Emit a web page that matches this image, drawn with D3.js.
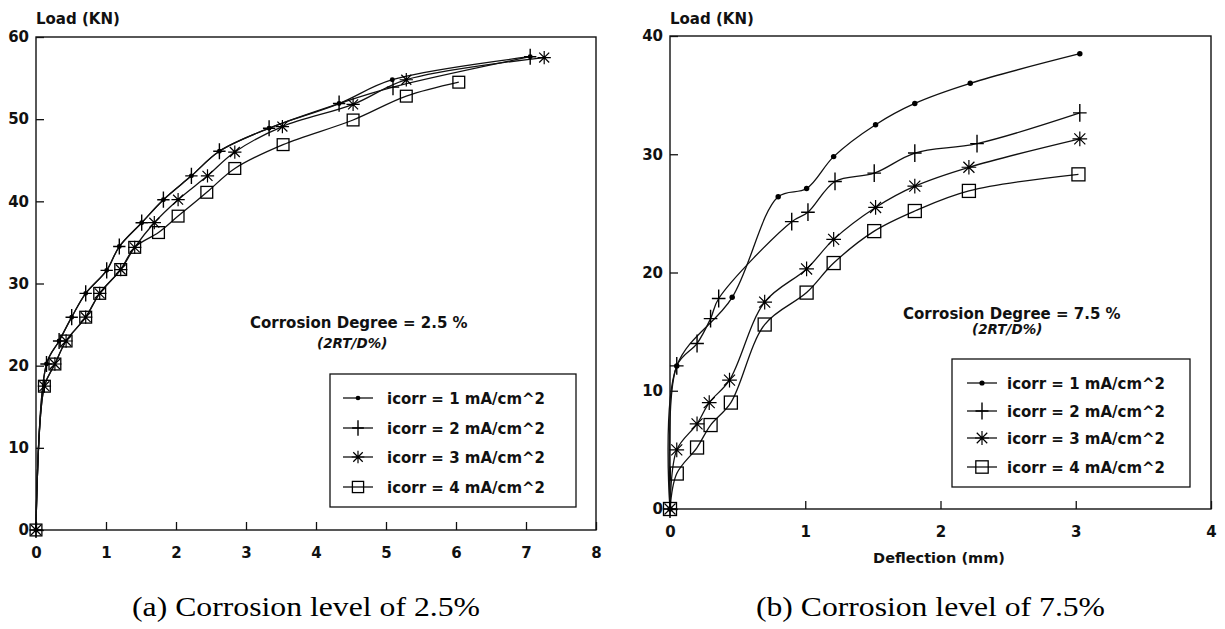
<!DOCTYPE html>
<html>
<head>
<meta charset="utf-8">
<script src="https://cdn.jsdelivr.net/npm/d3@7"></script>
<style>
  html, body { margin: 0; padding: 0; background: #fff; }
  svg { display: block; }
  .lab { font-family: "DejaVu Sans", sans-serif; font-weight: bold; fill: #111; }
  .cap { font-family: "Liberation Serif", Tinos, "Times New Roman", Times, serif; fill: #000; }
</style>
</head>
<body>
<svg id="chart" width="1225" height="629"></svg>
<script>
// ---------- Data: panel (a) corrosion 2.5 % ----------
const a1x = [0, 0.15, 0.33, 0.51, 0.71, 1.01, 1.19, 1.51, 1.82, 2.22, 2.62, 3.33, 4.33, 5.09, 7.06];
const a1y = [0, 20.2, 23.0, 25.9, 28.8, 31.6, 34.5, 37.4, 40.2, 43.1, 46.1, 48.9, 51.9, 54.8, 57.6];
const a2x = [0, 0.15, 0.33, 0.51, 0.71, 1.01, 1.19, 1.51, 1.82, 2.22, 2.62, 3.33, 4.33, 5.10, 7.06];
const a2y = [0, 20.2, 23.0, 25.9, 28.8, 31.6, 34.5, 37.4, 40.2, 43.1, 46.1, 48.9, 51.9, 53.9, 57.6];
const a3x = [0, 0.12, 0.27, 0.43, 0.71, 0.91, 1.21, 1.41, 1.69, 2.03, 2.45, 2.84, 3.52, 4.53, 5.29, 7.26];
const a3y = [0, 17.5, 20.2, 23.0, 25.9, 28.8, 31.7, 34.4, 37.4, 40.2, 43.1, 46.0, 49.1, 51.8, 54.8, 57.5];
const a4x = [0, 0.12, 0.27, 0.43, 0.71, 0.91, 1.21, 1.41, 1.75, 2.03, 2.44, 2.84, 3.53, 4.53, 5.29, 6.04];
const a4y = [0, 17.5, 20.2, 23.0, 25.9, 28.8, 31.7, 34.4, 36.2, 38.2, 41.1, 44.0, 46.9, 49.9, 52.8, 54.5];

// ---------- Data: panel (b) corrosion 7.5 % ----------
const b1x = [0, 0.05, 0.46, 0.80, 1.01, 1.21, 1.52, 1.81, 2.22, 3.03];
const b1y = [0, 12.1, 17.9, 26.4, 27.1, 29.8, 32.5, 34.3, 36.0, 38.5];
const b2x = [0, 0.05, 0.20, 0.30, 0.36, 0.90, 1.02, 1.22, 1.51, 1.81, 2.27, 3.03];
const b2y = [0, 12.1, 14.0, 16.1, 17.8, 24.3, 25.1, 27.7, 28.4, 30.1, 30.9, 33.5];
const b3x = [0, 0.05, 0.20, 0.29, 0.44, 0.70, 1.01, 1.21, 1.52, 1.81, 2.21, 3.03];
const b3y = [0, 5.0, 7.2, 9.0, 10.9, 17.5, 20.3, 22.8, 25.5, 27.3, 28.9, 31.3];
const b4x = [0, 0.05, 0.20, 0.30, 0.45, 0.70, 1.01, 1.21, 1.51, 1.81, 2.21, 3.02];
const b4y = [0, 3.0, 5.2, 7.1, 9.0, 15.6, 18.3, 20.8, 23.5, 25.2, 26.9, 28.3];

// ---------- Ticks and labels ----------
const aXTicks = [0, 1, 2, 3, 4, 5, 6, 7, 8];
const aYTicks = [0, 10, 20, 30, 40, 50, 60];
const bXTicks = [0, 1, 2, 3, 4];
const bYTicks = [0, 10, 20, 30, 40];
const legendLabels = ["icorr = 1 mA/cm^2", "icorr = 2 mA/cm^2", "icorr = 3 mA/cm^2", "icorr = 4 mA/cm^2"];
const markerTypes = ["dot", "plus", "star", "box"];
const yTitle = "Load (KN)";
const xTitleB = "Deflection (mm)";
const noteA = "Corrosion Degree = 2.5 %";
const noteB = "Corrosion Degree = 7.5 %";
const noteSub = "(2RT/D%)";
const captionA = "(a) Corrosion level of 2.5%";
const captionB = "(b) Corrosion level of 7.5%";

const svg = d3.select("#chart");

function drawMarker(g, type, cx, cy, s) {
  const k = s.k;
  if (type === "dot") {
    g.append("circle").attr("cx", cx).attr("cy", cy).attr("r", 2.6 * k).attr("fill", "#000");
  } else if (type === "plus") {
    g.append("path")
      .attr("d", `M${cx - 6.5 * k},${cy}H${cx + 6.5 * k}M${cx},${cy - 8.5 * k}V${cy + 8.5 * k}`)
      .attr("stroke", "#000").attr("stroke-width", 1.4).attr("fill", "none");
  } else if (type === "star") {
    const r = 7 * k, d = r * 0.75;
    g.append("path")
      .attr("d", `M${cx - r},${cy}H${cx + r}M${cx},${cy - r}V${cy + r}M${cx - d},${cy - d}L${cx + d},${cy + d}M${cx - d},${cy + d}L${cx + d},${cy - d}`)
      .attr("stroke", "#000").attr("stroke-width", 1.2).attr("fill", "none");
  } else if (type === "box") {
    const h = 6.2 * k;
    g.append("rect").attr("x", cx - h).attr("y", cy - h).attr("width", 2 * h).attr("height", 2 * h)
      .attr("stroke", "#000").attr("stroke-width", 1.3).attr("fill", "none");
  }
}

function panel(cfg) {
  const x = d3.scaleLinear().domain(cfg.xDomain).range([cfg.left, cfg.right]);
  const y = d3.scaleLinear().domain(cfg.yDomain).range([cfg.bottom, cfg.top]);
  const g = svg.append("g");

  // frame
  g.append("rect").attr("x", cfg.left).attr("y", cfg.top)
    .attr("width", cfg.right - cfg.left).attr("height", cfg.bottom - cfg.top)
    .attr("fill", "none").attr("stroke", "#111").attr("stroke-width", 1.4);

  // axes with inward ticks
  const ax = g.append("g").attr("transform", `translate(0,${cfg.bottom})`)
    .call(d3.axisBottom(x).tickValues(cfg.xTicks).tickFormat(d3.format("d"))
      .tickSizeInner(-8).tickSizeOuter(0).tickPadding(17));
  const ay = g.append("g").attr("transform", `translate(${cfg.left},0)`)
    .call(d3.axisLeft(y).tickValues(cfg.yTicks).tickFormat(d3.format("d"))
      .tickSizeInner(-8).tickSizeOuter(0).tickPadding(7));
  [ax, ay].forEach(a => {
    a.attr("font-family", null).attr("font-size", null);
    a.select(".domain").remove();
    a.selectAll(".tick line").attr("stroke", "#111").attr("stroke-width", 1.3);
    a.selectAll(".tick text").attr("class", "lab").style("font-size", "15px").attr("fill", "#111");
  });

  // y title
  g.append("text").attr("class", "lab").style("font-size", "15px")
    .attr("x", cfg.left).attr("y", 24).text(yTitle);
  if (cfg.xTitle) {
    g.append("text").attr("class", "lab").style("font-size", "14.5px")
      .attr("x", cfg.xTitleX).attr("y", 563).attr("text-anchor", "middle").text(cfg.xTitle);
  }

  // series
  const line = d3.line().x(d => x(d[0])).y(d => y(d[1])).curve(d3.curveCatmullRom.alpha(0.5));
  cfg.series.forEach((s) => {
    const pts = s.xs.map((v, j) => [v, s.ys[j]]);
    g.append("path").datum(pts).attr("d", line)
      .attr("fill", "none").attr("stroke", "#111").attr("stroke-width", 1.3);
  });
  cfg.series.forEach((s, i) => {
    s.xs.forEach((v, j) => drawMarker(g, markerTypes[i], x(v), y(s.ys[j]), cfg));
  });

  // note
  g.append("text").attr("class", "lab").style("font-size", "15px")
    .attr("x", cfg.noteX).attr("y", cfg.noteY).text(cfg.note);
  g.append("text").attr("class", "lab").style("font-size", "13.5px").style("font-style", "italic")
    .attr("x", cfg.subX).attr("y", cfg.subY).text(noteSub);

  // legend
  const L = cfg.legend;
  g.append("rect").attr("x", L.x0).attr("y", L.y0).attr("width", L.x1 - L.x0).attr("height", L.y1 - L.y0)
    .attr("fill", "#fff").attr("stroke", "#111").attr("stroke-width", 1.3);
  legendLabels.forEach((t, i) => {
    const yy = L.rows[i];
    g.append("line").attr("x1", L.s0).attr("x2", L.s1).attr("y1", yy).attr("y2", yy)
      .attr("stroke", "#111").attr("stroke-width", 1.3);
    drawMarker(g, markerTypes[i], (L.s0 + L.s1) / 2, yy, { k: cfg.k * 0.95 });
    g.append("text").attr("class", "lab").style("font-size", "15px")
      .attr("x", L.tx).attr("y", yy + 5.5).text(t);
  });
}

panel({
  xDomain: [0, 8], yDomain: [0, 60], left: 36, right: 596, top: 37, bottom: 530,
  xTicks: aXTicks, yTicks: aYTicks, k: 0.95,
  series: [{ xs: a1x, ys: a1y }, { xs: a2x, ys: a2y }, { xs: a3x, ys: a3y }, { xs: a4x, ys: a4y }],
  note: noteA, noteX: 250, noteY: 327.5, subX: 317, subY: 348,
  legend: { x0: 330, y0: 374, x1: 576, y1: 507, rows: [398, 428, 457, 487], s0: 343, s1: 373, tx: 387 }
});

panel({
  xDomain: [0, 4], yDomain: [0, 40], left: 670, right: 1211, top: 36, bottom: 509,
  xTicks: bXTicks, yTicks: bYTicks, k: 1.05,
  xTitle: xTitleB, xTitleX: 939,
  series: [{ xs: b1x, ys: b1y }, { xs: b2x, ys: b2y }, { xs: b3x, ys: b3y }, { xs: b4x, ys: b4y }],
  note: noteB, noteX: 903, noteY: 318.5, subX: 972, subY: 334,
  legend: { x0: 952, y0: 359, x1: 1190, y1: 487, rows: [383, 411, 438, 467], s0: 967, s1: 997, tx: 1007 }
});

// captions
svg.append("text").attr("class", "cap").style("font-size", "28px")
  .attr("x", 132).attr("y", 616).attr("textLength", 348).attr("lengthAdjust", "spacingAndGlyphs")
  .text(captionA);
svg.append("text").attr("class", "cap").style("font-size", "28px")
  .attr("x", 756).attr("y", 616).attr("textLength", 349).attr("lengthAdjust", "spacingAndGlyphs")
  .text(captionB);
</script>
</body>
</html>
